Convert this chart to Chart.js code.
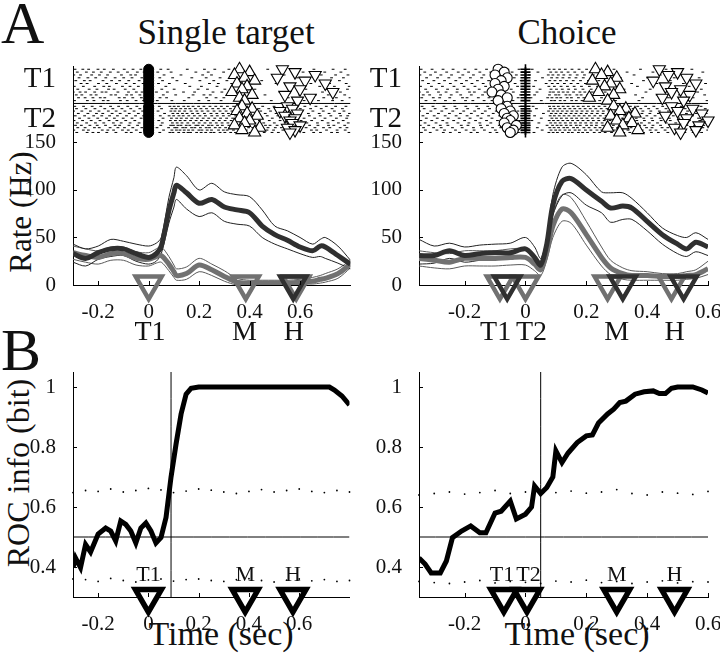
<!DOCTYPE html>
<html>
<head>
<meta charset="utf-8">
<script src="https://cdn.jsdelivr.net/npm/chart.js@4.4.1/dist/chart.umd.min.js"></script>
<style>
  body { margin: 0; background: #fff; width: 720px; height: 660px; position: relative; overflow: hidden;
         font-family: "Liberation Serif", "Times New Roman", serif; color: #111; }
  canvas { position: absolute; }
  .txt { position: absolute; white-space: nowrap; line-height: 1; }
  .rot { transform: translate(-50%, -50%) rotate(-90deg); }
  .mid { transform: translateX(-50%); }
</style>
</head>
<body>
<div class="txt" style="left:1px;top:-7px;font-size:60px">A</div>
<div class="txt" style="left:1px;top:320px;font-size:60px">B</div>
<div class="txt mid" style="left:226px;top:15px;font-size:35px">Single target</div>
<div class="txt mid" style="left:567px;top:15px;font-size:35px">Choice</div>
<div class="txt rot" style="left:20px;top:212px;font-size:31px">Rate (Hz)</div>
<div class="txt rot" style="left:18px;top:473px;font-size:32px">ROC info (bit)</div>
<div class="txt mid" style="left:221px;top:617px;font-size:34px">Time (sec)</div>
<div class="txt mid" style="left:577px;top:617px;font-size:34px">Time (sec)</div>

<canvas id="rateLeft" width="370" height="310" style="left:0;top:40px"></canvas>
<canvas id="rateRight" width="380" height="310" style="left:360px;top:40px"></canvas>
<canvas id="rocLeft" width="370" height="290" style="left:0;top:350px"></canvas>
<canvas id="rocRight" width="380" height="290" style="left:360px;top:350px"></canvas>

<script>
// ---- firing rate, single target (sec / Hz)
const rateTimeLeft = [-0.3,-0.25,-0.2,-0.15,-0.1,-0.05,0,0.03,0.05,0.08,0.1,0.11,0.15,0.2,0.25,0.3,0.35,0.4,0.45,0.5,0.55,0.6,0.65,0.68,0.7,0.75,0.8];
const darkMeanLeft = [33,28,34,38,38,33,29,33,41,78,97,105,97,86,90,82,79,76,62,53,47,40,36,41,40,31,22];
const darkUpLeft   = [43,38,41,48,46,43,41,44,50,92,113,124,115,100,107,98,95,93,79,62,57,50,43,48,50,41,26];
const darkLoLeft   = [24,20,27,30,31,25,22,25,33,65,82,90,80,72,76,67,64,62,50,43,38,33,29,30,28,23,17];
const grayMeanLeft = [34,31,29,33,33,28,27,30,31,22,14,10,12,21,16,9,3,2,2,2,2,3,4,6,7,12,22];
const grayUpLeft   = [41,38,36,40,40,35,34,38,40,30,21,17,19,28,22,15,7,5,5,5,5,6,8,10,12,17,26];
const grayLoLeft   = [27,24,22,26,26,21,20,23,24,15,8,5,6,14,10,4,0,0,0,0,0,1,1,2,3,7,18];

// ---- firing rate, choice
const rateTimeRight = [-0.35,-0.3,-0.25,-0.2,-0.15,-0.1,-0.05,0,0.03,0.05,0.07,0.09,0.12,0.15,0.2,0.25,0.28,0.32,0.35,0.4,0.45,0.5,0.53,0.56,0.6];
const darkMeanRight = [31,31,36,31,33,34,34,38,29,21,43,84,109,112,100,88,81,83,81,67,53,43,38,45,40];
const darkUpRight   = [48,41,44,40,42,43,44,50,40,28,50,95,124,128,116,98,97,97,91,76,60,52,50,55,48];
const darkLoRight   = [22,23,28,24,26,27,27,30,21,15,36,73,94,97,84,76,66,69,69,57,43,33,30,35,31];
const grayMeanRight = [28,26,24,28,28,28,29,29,22,16,35,62,80,76,53,29,18,12,10,10,9,9,10,11,17];
const grayUpRight   = [36,34,33,36,36,36,38,38,30,22,45,75,95,92,67,40,26,18,15,14,12,12,14,16,25];
const grayLoRight   = [20,18,17,20,20,20,21,21,15,10,26,50,67,65,42,20,11,6,5,5,5,5,6,7,11];

// ---- ROC info
const rocTimeLeft = [-0.3,-0.29,-0.27,-0.25,-0.23,-0.2,-0.17,-0.15,-0.13,-0.11,-0.09,-0.07,-0.05,-0.03,-0.01,0.01,0.03,0.05,0.07,0.09,0.11,0.13,0.15,0.17,0.2,0.3,0.4,0.5,0.6,0.7,0.72,0.74,0.77,0.8];
const rocLeft = [0.398,0.43,0.398,0.475,0.45,0.51,0.53,0.52,0.487,0.553,0.542,0.52,0.48,0.53,0.547,0.52,0.48,0.498,0.565,0.70,0.81,0.91,0.976,0.996,1,1,1,1,1,1,1,0.99,0.97,0.94];
const rocTimeRight = [-0.35,-0.33,-0.31,-0.28,-0.26,-0.24,-0.21,-0.18,-0.15,-0.13,-0.1,-0.08,-0.05,-0.03,0,0.02,0.03,0.05,0.07,0.09,0.1,0.12,0.14,0.17,0.2,0.22,0.24,0.27,0.29,0.31,0.33,0.36,0.39,0.42,0.44,0.46,0.48,0.5,0.55,0.58,0.6];
const rocRight = [0.43,0.41,0.38,0.38,0.42,0.498,0.52,0.537,0.514,0.514,0.58,0.586,0.62,0.56,0.576,0.60,0.67,0.645,0.665,0.70,0.787,0.748,0.78,0.815,0.837,0.84,0.88,0.91,0.926,0.948,0.953,0.976,0.984,0.987,0.978,0.978,0.996,1,1,0.99,0.98];

// chance bounds (dotted)
const chanceTimeLeft = [-0.3,-0.25,-0.2,-0.15,-0.1,-0.05,0,0.05,0.1,0.15,0.2,0.25,0.3,0.35,0.4,0.45,0.5,0.55,0.6,0.65,0.7,0.75,0.8];
const chanceHiLeft = [0.648,0.655,0.652,0.660,0.650,0.655,0.662,0.657,0.648,0.653,0.660,0.656,0.650,0.645,0.652,0.658,0.650,0.655,0.660,0.652,0.648,0.655,0.650];
const chanceLoLeft = [0.360,0.358,0.352,0.362,0.355,0.350,0.357,0.360,0.353,0.358,0.360,0.355,0.352,0.358,0.361,0.355,0.350,0.356,0.360,0.354,0.358,0.352,0.355];
const chanceTimeRight = [-0.35,-0.3,-0.25,-0.2,-0.15,-0.1,-0.05,0,0.05,0.1,0.15,0.2,0.25,0.3,0.35,0.4,0.45,0.5,0.55,0.6];
const chanceHiRight = [0.640,0.645,0.650,0.643,0.648,0.655,0.645,0.650,0.642,0.648,0.653,0.646,0.650,0.658,0.645,0.640,0.650,0.646,0.642,0.652];
const chanceLoRight = [0.352,0.348,0.345,0.350,0.355,0.347,0.352,0.349,0.345,0.353,0.350,0.356,0.348,0.352,0.345,0.350,0.354,0.347,0.351,0.350];

// event markers (sec)
const eventNamesLeft = ['T1','M','H'];
const eventTimesLeft = [0.005,0.38,0.575];
const eventNamesRight = ['T1','T2','M','H'];
const eventTimesRight = [-0.098,0.02,0.30,0.49];
const grayMarksLeft = [0,0.385,0.585];
const darkMarksLeft = [0.573];
const grayMarksRight = [-0.084,0,0.27,0.48];
const darkMarksRight = [-0.06,0.32,0.52];
const rocMarksLeft = [0,0.385,0.575];
const rocMarksRight = [-0.071,0.005,0.30,0.49];
const rocNamesLeft = ['T1','M','H'];
const rocLabelTimesLeft = [0,0.385,0.575];
const rocNamesRight = ['T1','T2','M','H'];
const rocLabelTimesRight = [-0.077,0.01,0.30,0.49];
const roiLineLeft = 0.09;
const roiLineRight = 0.05;

// ---- raster: spike times (ms), one row per trial; T1 trials then T2 trials
const spikesLeftT1 = [
  [-292,-261,-238,-201,-176,-140,-97,-62,-31,48,77,153,221,262,318,472,655,731,779],
  [-283,-247,-219,-188,-152,-121,-84,-45,-18,36,89,187,236,297,403,612,698,762],
  [-297,-270,-226,-195,-163,-108,-71,-52,-12,61,128,214,249,341,537,684,741,790],
  [-276,-241,-210,-170,-133,-99,-66,-27,44,95,171,228,283,366,590,667,725,772],
  [-289,-255,-232,-181,-147,-115,-79,-38,55,112,203,258,310,448,631,709,756],
  [-268,-244,-199,-166,-128,-90,-57,-22,39,82,145,241,276,329,505,643,717,783],
  [-295,-259,-214,-178,-156,-104,-74,-41,68,163,209,271,384,569,678,736,795],
  [-281,-236,-205,-159,-137,-93,-59,-15,52,101,196,233,302,421,623,702,748,788],
  [-299,-272,-250,-214,-185,-169,-122,-80,-49,-26,31,74,138,182,255,290,355,520,606,689,760],
  [-287,-265,-229,-208,-149,-131,-87,-68,-35,-6,58,107,176,219,244,335,461,598,661,712,777],
  [-278,-252,-221,-192,-174,-117,-96,-63,-29,45,71,159,230,267,298,412,553,637,694,744,798],
  [-294,-243,-217,-180,-161,-112,-85,-50,-20,34,92,141,199,238,287,376,486,616,673,729,767]
];
const spikesLeftT2 = [
  [-293,-258,-224,-190,-151,-119,-83,-47,-16,42,84,101,118,139,157,176,198,219,243,266,288,312,337,361,389,418,452,497,536,578,619,663,704,741,782],
  [-286,-249,-213,-174,-142,-106,-71,-35,51,92,108,127,146,163,185,207,229,254,276,299,324,348,376,403,437,476,519,558,601,642,684,727,768],
  [-298,-265,-231,-197,-160,-129,-94,-58,-24,37,88,104,122,143,168,191,212,235,259,283,307,330,355,382,411,444,483,527,566,607,651,692,736,774],
  [-279,-241,-207,-182,-145,-113,-77,-41,-9,63,96,115,134,152,174,195,221,247,270,294,316,341,367,395,426,462,505,548,589,633,676,715,757,796],
  [-291,-254,-218,-186,-155,-124,-88,-52,-20,46,81,99,120,137,159,181,203,225,250,272,296,319,345,372,399,431,470,512,553,596,637,680,722,761,789],
  [-274,-237,-202,-167,-136,-101,-66,-30,57,90,111,129,150,171,193,216,238,262,285,309,333,358,384,415,449,490,534,575,616,658,699,744,785],
  [-296,-262,-228,-193,-157,-126,-91,-55,-13,40,86,106,125,144,166,188,209,232,256,280,303,327,351,379,407,439,478,521,562,604,646,688,731,771],
  [-283,-246,-211,-178,-140,-109,-74,-38,-4,54,94,113,132,155,178,200,223,245,268,291,314,338,364,392,421,456,498,541,584,627,669,711,752,791],
  [-290,-267,-233,-204,-171,-133,-115,-78,-44,-11,48,87,98,116,128,149,163,187,196,214,237,251,273,292,318,329,352,381,398,427,463,481,509,547,569,611,638,671,713,734,777],
  [-281,-252,-215,-196,-153,-122,-96,-63,-27,33,79,103,112,135,147,170,183,205,228,241,264,282,305,321,347,363,396,412,441,473,502,526,563,592,624,659,693,718,759,786],
  [-297,-259,-239,-184,-162,-139,-104,-81,-49,-17,59,92,110,124,141,158,175,199,211,232,249,277,296,311,336,358,387,420,455,469,495,532,571,598,645,666,705,747,779],
  [-285,-244,-221,-199,-166,-130,-89,-69,-33,-2,44,84,96,119,139,156,166,190,208,226,246,259,283,302,325,344,370,402,430,458,489,514,551,580,615,654,681,725,748,794]
];
const spikesRightT1 = [
  [-343,-307,-271,-238,-199,-163,-128,-92,-58,-21,22,78,94,112,131,153,176,201,232,291,378,462,547],
  [-331,-296,-259,-221,-187,-150,-114,-79,-44,-8,41,83,101,119,140,162,187,214,259,334,419,511,583],
  [-347,-312,-278,-243,-206,-171,-137,-101,-66,-30,13,75,90,108,126,147,170,194,223,276,357,443,528],
  [-325,-289,-252,-216,-181,-144,-107,-72,-37,4,56,86,104,123,144,166,190,218,248,312,401,489,571],
  [-338,-301,-266,-229,-194,-158,-121,-85,-50,-14,33,80,97,115,135,157,181,207,241,305,388,476,559],
  [-319,-284,-247,-210,-176,-139,-103,-68,-34,9,68,88,106,128,150,172,197,228,267,349,432,519,592],
  [-345,-309,-273,-235,-202,-166,-131,-96,-61,-26,27,77,95,117,138,160,184,210,237,284,368,455,538],
  [-328,-293,-256,-224,-189,-152,-118,-83,-47,-11,48,84,102,121,142,164,189,216,253,324,410,497,578],
  [-349,-322,-286,-261,-225,-184,-168,-133,-99,-70,-40,-3,38,81,92,109,124,139,158,179,195,220,262,318,396,481,566],
  [-336,-315,-279,-244,-213,-178,-141,-116,-77,-52,-16,30,79,99,110,133,146,169,183,205,236,287,362,433,506,589],
  [-341,-303,-282,-249,-207,-192,-155,-120,-88,-63,-24,18,73,87,103,116,137,151,174,192,213,250,301,385,470,551],
  [-327,-298,-263,-234,-197,-173,-136,-110,-75,-41,-6,52,85,96,114,129,152,167,186,209,244,296,373,449,533,597]
];
const spikesRightT2 = [
  [-340,-304,-268,-232,-196,-160,-124,-89,-53,-18,25,79,93,108,124,140,157,173,190,207,224,242,261,280,300,322,345,369,395,422,451,481,512,544,577],
  [-333,-297,-261,-226,-190,-154,-118,-82,-46,-10,36,82,97,113,129,146,162,179,196,213,231,249,268,288,309,331,354,379,405,433,462,493,525,558,591],
  [-348,-311,-275,-239,-203,-167,-132,-96,-60,-25,17,76,91,106,121,137,153,169,186,203,220,238,256,275,295,316,338,361,386,412,440,470,501,533,566,598],
  [-322,-286,-250,-214,-178,-142,-106,-70,-34,5,59,85,100,116,133,150,166,183,200,218,236,255,274,294,315,336,359,383,409,437,466,497,529,562,594],
  [-337,-300,-264,-228,-192,-157,-121,-85,-49,-13,30,81,95,111,127,143,160,176,193,210,228,246,265,284,304,326,349,373,399,426,455,486,517,549,582],
  [-326,-290,-254,-218,-182,-146,-110,-74,-38,0,52,87,102,118,135,152,168,185,202,220,239,258,278,298,319,341,364,389,415,443,473,504,536,569],
  [-344,-308,-272,-236,-200,-164,-128,-92,-56,-20,21,78,92,107,123,139,155,172,189,206,223,241,259,278,298,320,342,366,391,418,446,476,507,539,573],
  [-330,-294,-258,-222,-186,-150,-114,-78,-42,-6,44,83,98,114,131,148,164,181,198,216,234,252,271,291,312,334,357,381,407,434,463,494,526,559,593],
  [-346,-318,-280,-255,-211,-189,-148,-125,-86,-64,-29,12,71,89,104,117,134,149,167,180,201,217,233,254,270,289,310,327,350,375,392,419,444,476,499,531,556,586],
  [-335,-302,-277,-240,-208,-171,-144,-108,-81,-45,-15,39,80,94,109,126,138,158,171,192,209,229,245,266,285,303,328,347,371,398,416,449,468,503,521,555,583],
  [-329,-291,-266,-230,-195,-169,-135,-99,-66,-32,2,55,84,99,113,130,145,163,177,197,215,235,251,273,292,318,337,363,384,410,429,459,487,515,547,572,599],
  [-342,-313,-270,-247,-217,-179,-158,-116,-94,-57,-23,28,77,91,105,122,141,154,174,188,204,226,244,262,283,306,323,343,367,388,414,437,468,494,524,551,579]
];
// per-trial event times (sec), T1 trials then T2 trials
const cueLeft   = [0,0,0,0,0,0,0,0,0,0,0,0, 0,0,0,0,0,0,0,0,0,0,0,0];
const moveLeft  = [0.36,0.40,0.34,0.38,0.42,0.35,0.39,0.37,0.33,0.41,0.36,0.38, 0.37,0.41,0.35,0.39,0.43,0.36,0.40,0.38,0.34,0.44,0.37,0.42];
const holdLeft  = [0.53,0.58,0.66,0.51,0.62,0.70,0.56,0.60,0.73,0.54,0.64,0.59, 0.55,0.57,0.52,0.59,0.54,0.58,0.56,0.57,0.60,0.55,0.58,0.56];
const cue1Right = [-0.09,-0.07,-0.10,-0.06,-0.08,-0.10,-0.07,-0.09,-0.11,-0.08,-0.06,-0.09, -0.06,-0.08,-0.05,-0.07,-0.04,-0.06,-0.05,-0.07,-0.03,-0.06,-0.04,-0.05];
const cue2Right = [0,0,0,0,0,0,0,0,0,0,0,0, 0,0,0,0,0,0,0,0,0,0,0,0];
const moveRight = [0.23,0.27,0.25,0.30,0.22,0.28,0.26,0.31,0.24,0.29,0.21,0.27, 0.29,0.33,0.31,0.36,0.28,0.34,0.30,0.35,0.32,0.27,0.37,0.31];
const holdRight = [0.44,0.50,0.47,0.53,0.42,0.56,0.46,0.51,0.48,0.54,0.45,0.52, 0.48,0.55,0.50,0.58,0.46,0.53,0.60,0.52,0.57,0.49,0.56,0.51];
const rasterLabels = ['T1','T2'];

const FONT = '"Liberation Serif", "Times New Roman", serif';
Chart.defaults.font.family = FONT;
Chart.defaults.color = '#111';

const DARK = '#303030';
const GRAY = '#717171';

function xy(xs, ys) {
    return xs.map((x, i) => ({ x: x, y: ys[i] }));
}

// raster row y (rate units, above the 150 Hz tick)
function rowY(trial) {
    return trial < 12 ? 227 - trial * 3.0 : 188 - (trial - 12) * 2.5;
}

function rasterPoints(rowsT1, rowsT2) {
    const rows = rowsT1.concat(rowsT2);
    return rows.flatMap((row, i) => row.map(ms => ({ x: ms / 1000, y: rowY(i) })));
}

function markerPoints(times) {
    return times.map((t, i) => ({ x: t, y: rowY(i) }));
}

function line(data, color, width, order) {
    return { data: data, borderColor: color, borderWidth: width, pointRadius: 0, fill: false, tension: 0.3, order: order };
}

function marks(data, style, radius, color, fill, width, order, extra) {
    return Object.assign({ data: data, showLine: false, pointStyle: style, pointRadius: radius,
        pointBorderColor: color, pointBackgroundColor: fill, pointBorderWidth: width, clip: false, order: order }, extra || {});
}

function tickText(v) {
    return String(Math.round(v * 10) / 10);
}

// inward tick marks + event labels
const frame = {
    id: 'frame',
    afterDraw(chart, args, opts) {
        const { ctx, chartArea: a, scales } = chart;
        ctx.save();
        ctx.strokeStyle = '#000';
        ctx.lineWidth = 1;
        ctx.beginPath();
        scales.x.ticks.forEach(t => {
            const px = Math.round(scales.x.getPixelForValue(t.value)) + 0.5;
            ctx.moveTo(px, a.bottom);
            ctx.lineTo(px, a.bottom - 4);
        });
        opts.yMarks.forEach(v => {
            const py = Math.round(scales.y.getPixelForValue(v)) + 0.5;
            ctx.moveTo(a.left, py);
            ctx.lineTo(a.left + 4, py);
        });
        ctx.stroke();
        ctx.fillStyle = '#111';
        ctx.font = opts.size + 'px ' + FONT;
        ctx.textAlign = 'center';
        ctx.textBaseline = 'alphabetic';
        opts.names.forEach((n, i) => {
            ctx.fillText(n, scales.x.getPixelForValue(opts.times[i]), a.bottom + opts.dy);
        });
        ctx.restore();
    }
};

function xScale(min, max, height, pad) {
    return {
        type: 'linear', min: min, max: max,
        grid: { display: false },
        border: { display: true, color: '#000', width: 1 },
        afterBuildTicks: s => {
            s.ticks = [-0.2, 0, 0.2, 0.4, 0.6].filter(v => v >= min && v <= max + 1e-9).map(v => ({ value: v }));
        },
        afterFit: s => { s.height = height; },
        ticks: { autoSkip: false, maxRotation: 0, padding: pad, font: { size: 21 }, color: '#111', callback: tickText }
    };
}

function rateChart(id, xmin, xmax, yWidth, padRight, set, names, times) {
    const labelY = [rowY(3.7), rowY(17.5)];
    return new Chart(document.getElementById(id), {
        type: 'line',
        data: { datasets: set },
        options: {
            responsive: false, animation: false,
            layout: { padding: { top: 23, right: padRight, left: 0, bottom: 0 } },
            plugins: { legend: { display: false }, tooltip: { enabled: false },
                frame: { yMarks: [0, 50, 100, 150], names: names, times: times, size: 28, dy: 55 } },
            scales: {
                x: xScale(xmin, xmax, 65, 7),
                y: {
                    type: 'linear', min: 0, max: 230,
                    grid: { display: false },
                    border: { display: true, color: '#000', width: 1 },
                    afterBuildTicks: s => {
                        s.ticks = [0, 50, 100, 150, labelY[1], labelY[0]].map(v => ({ value: v }));
                    },
                    afterFit: s => { s.width = yWidth; },
                    ticks: {
                        padding: 9, color: '#111',
                        font: c => ({ size: c.tick && c.tick.value > 155 ? 29 : 21 }),
                        callback: v => v > 155 ? (v > 200 ? rasterLabels[0] : rasterLabels[1]) : v
                    }
                }
            }
        },
        plugins: [frame]
    });
}

function rocChart(id, xmin, xmax, yWidth, padRight, set, names, times) {
    return new Chart(document.getElementById(id), {
        type: 'line',
        data: { datasets: set },
        options: {
            responsive: false, animation: false,
            layout: { padding: { top: 22, right: padRight, left: 0, bottom: 0 } },
            plugins: { legend: { display: false }, tooltip: { enabled: false },
                frame: { yMarks: [0.4, 0.6, 0.8, 1], names: names, times: times, size: 22, dy: -16 } },
            scales: {
                x: xScale(xmin, xmax, 43, 7),
                y: {
                    type: 'linear', min: 0.3, max: 1.05,
                    grid: { display: false },
                    border: { display: true, color: '#000', width: 1 },
                    afterBuildTicks: s => { s.ticks = [0.4, 0.6, 0.8, 1].map(v => ({ value: v })); },
                    afterFit: s => { s.width = yWidth; },
                    ticks: { padding: 9, font: { size: 21 }, color: '#111', callback: tickText }
                }
            }
        },
        plugins: [frame]
    });
}

function rateSets(xmin, xmax, t, dm, du, dl, gm, gu, gl, gMarks, dMarks, rasterT1, rasterT2, cueSets) {
    return [
        marks(rasterPoints(rasterT1, rasterT2), 'line', 1.4, '#000', '#000', 1, 20, { clip: true }),
        line([{ x: xmin, y: 191 }, { x: xmax, y: 191 }], '#000', 1, 19),
        ...cueSets,
        line(xy(t, gu), '#5a5a5a', 1, 12),
        line(xy(t, gl), '#5a5a5a', 1, 12),
        line(xy(t, du), '#222', 1, 11),
        line(xy(t, dl), '#222', 1, 11),
        line(xy(t, gm), GRAY, 5, 10),
        line(xy(t, dm), DARK, 5, 9),
        marks(gMarks.map(v => ({ x: v, y: 1 })), 'triangle', 15, GRAY, 'rgba(255,255,255,0)', 4.5, 3, { rotation: 180 }),
        marks(dMarks.map(v => ({ x: v, y: 1 })), 'triangle', 15, DARK, 'rgba(255,255,255,0)', 4.5, 2, { rotation: 180 })
    ];
}

function rocSets(xmin, xmax, ct, hi, lo, vline, t, roc, rocMarks) {
    return [
        marks(xy(ct, hi), 'circle', 0.9, '#000', '#000', 0, 12),
        marks(xy(ct, lo), 'circle', 0.9, '#000', '#000', 0, 12),
        line([{ x: xmin, y: 0.5 }, { x: xmax, y: 0.5 }], '#000', 1, 11),
        line([{ x: vline, y: 0.3 }, { x: vline, y: 1.05 }], '#000', 1, 11),
        Object.assign(line(xy(t, roc), '#000', 5, 5), { tension: 0 }),
        marks(rocMarks.map(v => ({ x: v, y: 0.3 })), 'triangle', 15, '#000', '#fff', 5.5, 1, { rotation: 180 })
    ];
}

rateChart('rateLeft', -0.3, 0.8, 73, 10,
    rateSets(-0.3, 0.8, rateTimeLeft, darkMeanLeft, darkUpLeft, darkLoLeft, grayMeanLeft, grayUpLeft, grayLoLeft,
        grayMarksLeft, darkMarksLeft, spikesLeftT1, spikesLeftT2, [
            marks(markerPoints(cueLeft), 'circle', 5, '#000', '#000', 1, 16),
            marks(markerPoints(moveLeft), 'triangle', 7, '#000', '#fff', 1.1, 15),
            marks(markerPoints(holdLeft), 'triangle', 7, '#000', '#fff', 1.1, 14, { rotation: 180 })
        ]),
    eventNamesLeft, eventTimesLeft);

rateChart('rateRight', -0.35, 0.6, 59, 32,
    rateSets(-0.35, 0.6, rateTimeRight, darkMeanRight, darkUpRight, darkLoRight, grayMeanRight, grayUpRight, grayLoRight,
        grayMarksRight, darkMarksRight, spikesRightT1, spikesRightT2, [
            marks(markerPoints(cue1Right), 'circle', 5, '#000', '#fff', 1.1, 16),
            marks(markerPoints(cue2Right), 'cross', 5, '#000', '#000', 1.6, 16),
            marks(markerPoints(moveRight), 'triangle', 7, '#000', '#fff', 1.1, 15),
            marks(markerPoints(holdRight), 'triangle', 7, '#000', '#fff', 1.1, 14, { rotation: 180 })
        ]),
    eventNamesRight, eventTimesRight);

rocChart('rocLeft', -0.3, 0.8, 73, 10,
    rocSets(-0.3, 0.8, chanceTimeLeft, chanceHiLeft, chanceLoLeft, roiLineLeft, rocTimeLeft, rocLeft, rocMarksLeft),
    rocNamesLeft, rocLabelTimesLeft);

rocChart('rocRight', -0.35, 0.6, 59, 32,
    rocSets(-0.35, 0.6, chanceTimeRight, chanceHiRight, chanceLoRight, roiLineRight, rocTimeRight, rocRight, rocMarksRight),
    rocNamesRight, rocLabelTimesRight);
</script>
</body>
</html>
